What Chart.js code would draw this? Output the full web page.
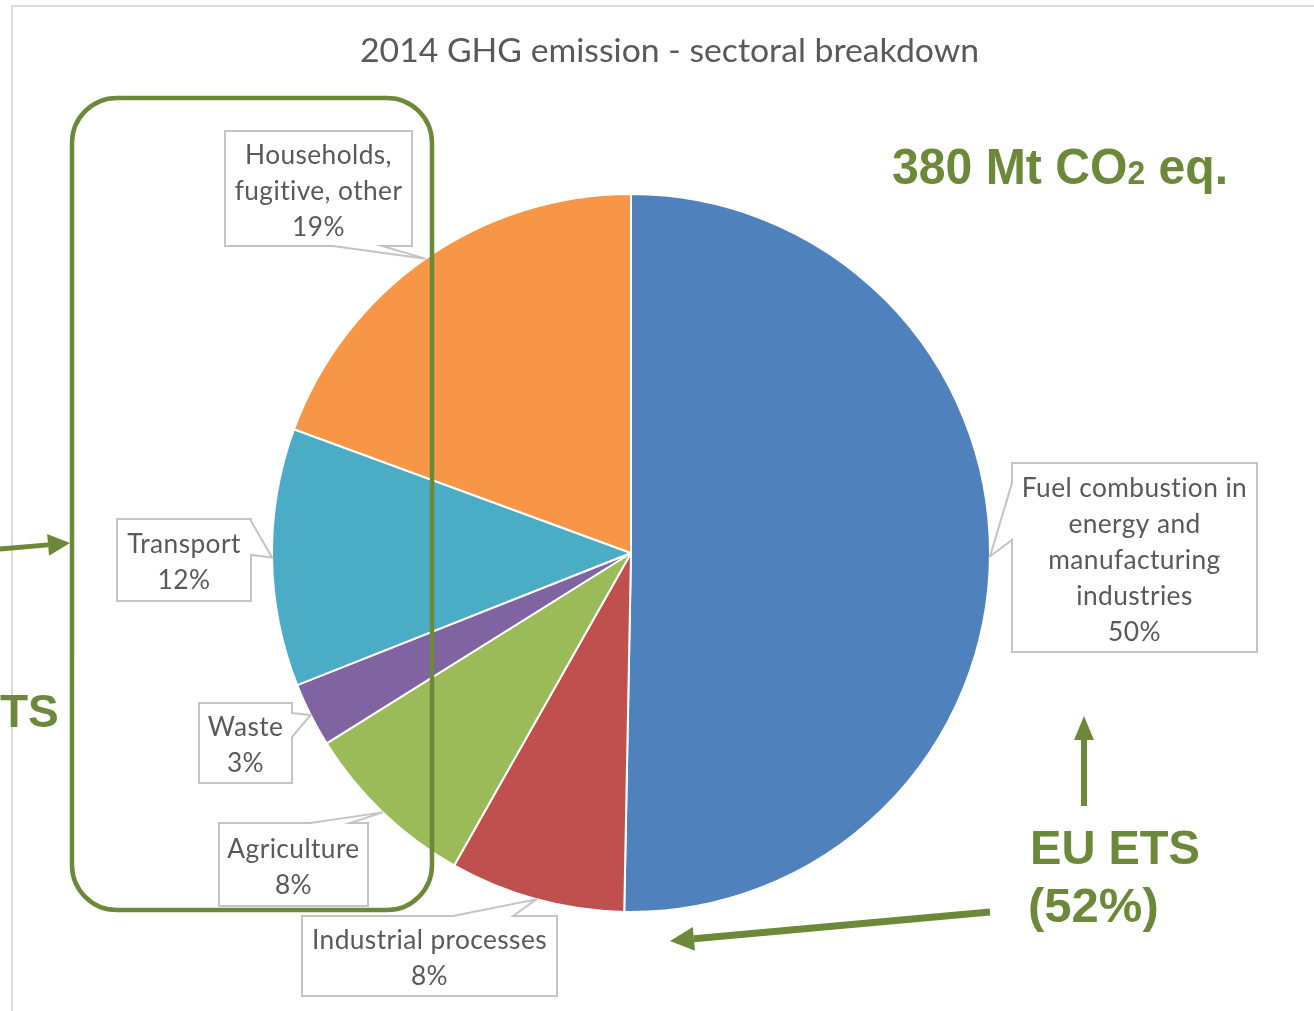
<!DOCTYPE html>
<html>
<head>
<meta charset="utf-8">
<script src="https://cdn.jsdelivr.net/npm/chart.js@4.4.0/dist/chart.umd.min.js"></script>
<style>
  html, body { margin: 0; padding: 0; background: #fff; }
  #wrap { position: relative; width: 1314px; height: 1011px; }
</style>
</head>
<body>
<div id="wrap"><canvas id="ghg-chart" width="1314" height="1011"></canvas></div>
<script>
var chartTitle = '2014 GHG emission - sectoral breakdown';
var categories = [
  ['Fuel combustion in', 'energy and', 'manufacturing', 'industries'],
  ['Industrial processes'],
  ['Agriculture'],
  ['Waste'],
  ['Transport'],
  ['Households,', 'fugitive, other']
];
var shares = [50.3, 7.9, 7.9, 2.9, 11.6, 19.4];
var sliceColors = ['#4F81BD', '#C0504D', '#9BBB59', '#8064A2', '#4BACC6', '#F79646'];
var totalNote = ['380 Mt CO', '2', ' eq.'];
var etsNote = ['EU ETS', '(52%)'];
var nonEtsNote = 'TS';

// where each data callout box sits, and which edge its pointer leaves from
var calloutBoxes = [
  { x: 1012, y: 463, w: 245, h: 189, side: 'left', p0: 483, p1: 540 },
  { x: 302, y: 916, w: 255, h: 80, side: 'top', p0: 453, p1: 513 },
  { x: 219, y: 823, w: 149, h: 83, side: 'top', p0: 310, p1: 350 },
  { x: 199, y: 703, w: 93, h: 80, side: 'right', p0: 713, p1: 737 },
  { x: 117, y: 519, w: 134, h: 82, side: 'right', p0: 521, p1: 555 },
  { x: 225, y: 131, w: 187, h: 115, side: 'bottom', p0: 333, p1: 382 }
];

var green = '#6C893A';
var labelGray = '#595959';

function calloutPath(ctx, b, tip) {
  var x0 = b.x, y0 = b.y, x1 = b.x + b.w, y1 = b.y + b.h;
  ctx.beginPath();
  ctx.moveTo(x0, y0);
  if (b.side === 'top') { ctx.lineTo(b.p0, y0); ctx.lineTo(tip.x, tip.y); ctx.lineTo(b.p1, y0); }
  ctx.lineTo(x1, y0);
  if (b.side === 'right') { ctx.lineTo(x1, b.p0); ctx.lineTo(tip.x, tip.y); ctx.lineTo(x1, b.p1); }
  ctx.lineTo(x1, y1);
  if (b.side === 'bottom') { ctx.lineTo(b.p1, y1); ctx.lineTo(tip.x, tip.y); ctx.lineTo(b.p0, y1); }
  ctx.lineTo(x0, y1);
  if (b.side === 'left') { ctx.lineTo(x0, b.p1); ctx.lineTo(tip.x, tip.y); ctx.lineTo(x0, b.p0); }
  ctx.closePath();
}

function squeezeText(ctx, text, x, y, sx) {
  ctx.save();
  ctx.translate(x, y);
  ctx.scale(sx, 1);
  ctx.fillText(text, 0, 0);
  ctx.restore();
}

function arrow(ctx, x0, y0, x1, y1, lw, headLen, headHalf) {
  var ang = Math.atan2(y1 - y0, x1 - x0);
  var bx = x1 - Math.cos(ang) * headLen, by = y1 - Math.sin(ang) * headLen;
  ctx.strokeStyle = green;
  ctx.fillStyle = green;
  ctx.lineWidth = lw;
  ctx.beginPath();
  ctx.moveTo(x0, y0);
  ctx.lineTo(bx, by);
  ctx.stroke();
  ctx.beginPath();
  ctx.moveTo(x1, y1);
  ctx.lineTo(bx + Math.sin(ang) * headHalf, by - Math.cos(ang) * headHalf);
  ctx.lineTo(bx - Math.sin(ang) * headHalf, by + Math.cos(ang) * headHalf);
  ctx.closePath();
  ctx.fill();
}

function roundRect(ctx, x, y, w, h, r) {
  ctx.beginPath();
  ctx.moveTo(x + r, y);
  ctx.arcTo(x + w, y, x + w, y + h, r);
  ctx.arcTo(x + w, y + h, x, y + h, r);
  ctx.arcTo(x, y + h, x, y, r);
  ctx.arcTo(x, y, x + w, y, r);
  ctx.closePath();
}

var calloutPlugin = {
  id: 'callouts',
  beforeDraw: function(chart) {
    var ctx = chart.ctx;
    ctx.save();
    ctx.strokeStyle = '#DCDCDC';
    ctx.lineWidth = 2;
    ctx.beginPath();
    ctx.moveTo(12, 1011);
    ctx.lineTo(12, 6);
    ctx.lineTo(1314, 6);
    ctx.stroke();

    // title
    ctx.fillStyle = labelGray;
    ctx.font = '33px Lato';
    ctx.textBaseline = 'alphabetic';
    ctx.textAlign = 'left';
    var tw = ctx.measureText(chartTitle).width;
    squeezeText(ctx, chartTitle, 360, 62, 619 / tw);
    ctx.restore();
  },
  afterDraw: function(chart) {
    var ctx = chart.ctx;
    var meta = chart.getDatasetMeta(0);
    var total = shares.reduce(function(a, b) { return a + b; }, 0);
    ctx.save();

    ctx.font = '26px Lato';
    ctx.letterSpacing = '0.4px';   // non-zero spacing keeps "ti" from turning into a ligature
    var sx = 235 / ctx.measureText('Industrial processes').width;

    meta.data.forEach(function(arc, i) {
      var p = arc.getProps(['x', 'y', 'startAngle', 'endAngle', 'outerRadius'], true);
      var mid = (p.startAngle + p.endAngle) / 2;
      var tip = { x: p.x + Math.cos(mid) * p.outerRadius, y: p.y + Math.sin(mid) * p.outerRadius };
      var b = calloutBoxes[i];

      calloutPath(ctx, b, tip);
      ctx.fillStyle = '#ffffff';
      ctx.fill();
      ctx.strokeStyle = '#C4C4C4';
      ctx.lineWidth = 2;
      ctx.stroke();

      var lines = categories[i].concat([Math.round(shares[i] / total * 100) + '%']);
      var lh = 36;
      var top = b.y + (b.h - lines.length * lh) / 2 + lh / 2;
      ctx.fillStyle = labelGray;
      ctx.textAlign = 'center';
      ctx.textBaseline = 'middle';
      lines.forEach(function(line, k) {
        squeezeText(ctx, line, b.x + b.w / 2, top + k * lh + 3, sx);
      });
    });
    ctx.letterSpacing = '0px';

    // green overlay annotations
    ctx.strokeStyle = green;
    ctx.lineWidth = 4.5;
    roundRect(ctx, 72, 98, 360, 812, 45);
    ctx.stroke();

    arrow(ctx, 0, 549, 70, 543, 5, 22, 11);
    arrow(ctx, 1084, 806, 1084, 716, 6, 24, 10);
    arrow(ctx, 990, 912, 670, 941, 7, 24, 12);

    ctx.fillStyle = green;
    ctx.textAlign = 'left';
    ctx.textBaseline = 'alphabetic';

    var big = 'bold 50px "Liberation Sans", Arial, sans-serif';
    var small = 'bold 33px "Liberation Sans", Arial, sans-serif';
    ctx.font = big;
    var w0 = ctx.measureText(totalNote[0]).width;
    var w2 = ctx.measureText(totalNote[2]).width;
    ctx.font = small;
    var w1 = ctx.measureText(totalNote[1]).width;
    var k = 336 / (w0 + w1 + w2);
    ctx.font = big;
    squeezeText(ctx, totalNote[0], 892, 184, k);
    ctx.font = small;
    squeezeText(ctx, totalNote[1], 892 + w0 * k, 184, k);
    ctx.font = big;
    squeezeText(ctx, totalNote[2], 892 + (w0 + w1) * k, 184, k);

    ctx.font = 'bold 49px "Liberation Sans", Arial, sans-serif';
    squeezeText(ctx, etsNote[0], 1030, 864, 170 / ctx.measureText(etsNote[0]).width);
    squeezeText(ctx, etsNote[1], 1028, 922, 1);

    ctx.font = 'bold 46px "Liberation Sans", Arial, sans-serif';
    squeezeText(ctx, nonEtsNote, 0, 727, 1);

    ctx.restore();
  }
};

var ctx = document.getElementById('ghg-chart');
new Chart(ctx, {
  type: 'pie',
  data: {
    labels: categories,
    datasets: [{
      data: shares,
      backgroundColor: sliceColors,
      borderColor: '#ffffff',
      borderWidth: 2
    }]
  },
  options: {
    responsive: false,
    animation: false,
    devicePixelRatio: 1,
    events: [],
    layout: { padding: { left: 271, right: 323, top: 193, bottom: 98 } },
    plugins: {
      legend: { display: false },
      tooltip: { enabled: false },
      title: { display: false }
    }
  },
  plugins: [calloutPlugin]
});
</script>
</body>
</html>
